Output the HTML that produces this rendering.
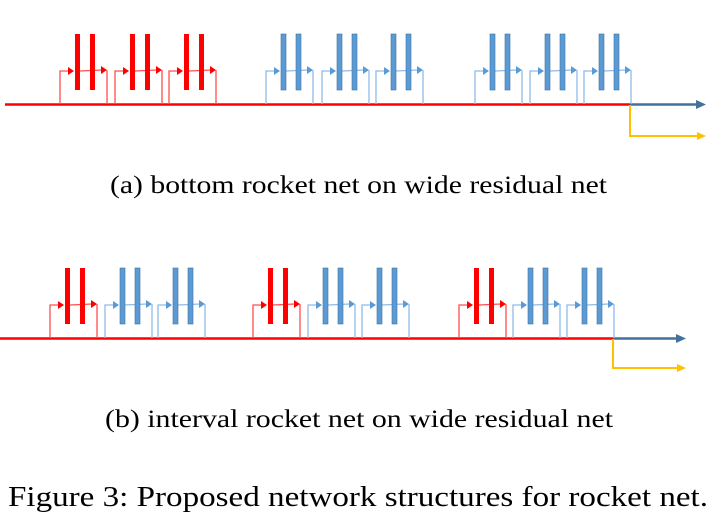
<!DOCTYPE html>
<html><head><meta charset="utf-8"><style>
html,body{margin:0;padding:0;background:#fff;}
svg{display:block;}
.t{font-family:"Liberation Serif","Times New Roman",Times,"Nimbus Roman","Nimbus Roman No9 L",serif;}
</style></head><body>
<svg width="716" height="518" viewBox="0 0 716 518" xmlns="http://www.w3.org/2000/svg">
<defs>
<g id="r">
<polyline points="0,0 0,-33 9,-33" fill="none" stroke="#ff4d4d" stroke-width="1.3"/>
<polygon points="8,-37 14,-33 8,-29" fill="#f00"/>
<line x1="20" y1="-33" x2="42" y2="-34" stroke="#ff4d4d" stroke-width="1.3"/>
<polygon points="41,-38 47,-34 41,-30" fill="#f00"/>
<line x1="47" y1="-34" x2="47" y2="0" stroke="#ff4d4d" stroke-width="1.3"/>
<rect x="15" y="-70" width="5" height="56" fill="#f00"/>
<rect x="30" y="-70" width="5" height="56" fill="#f00"/>
</g>
<g id="b">
<polyline points="0,0 0,-33 9,-33" fill="none" stroke="#8fbbe6" stroke-width="1.3"/>
<polygon points="8,-37 14,-33 8,-29" fill="#5b9bd5"/>
<line x1="20" y1="-33" x2="42" y2="-34" stroke="#8fbbe6" stroke-width="1.3"/>
<polygon points="41,-38 47,-34 41,-30" fill="#5b9bd5"/>
<line x1="47" y1="-34" x2="47" y2="0" stroke="#8fbbe6" stroke-width="1.3"/>
<rect x="15" y="-70" width="5" height="56" fill="#5b9bd5" stroke="#41719c" stroke-width="0.6"/>
<rect x="30" y="-70" width="5" height="56" fill="#5b9bd5" stroke="#41719c" stroke-width="0.6"/>
</g>
</defs>
<line x1="5" y1="104.5" x2="630" y2="104.5" stroke="#f00" stroke-width="2.5"/>
<line x1="630" y1="104.5" x2="698" y2="104.5" stroke="#41719c" stroke-width="2.5"/>
<polygon points="696,100 706,104.5 696,109" fill="#41719c"/>
<polyline points="630,105 630,136 698,136" fill="none" stroke="#ffc000" stroke-width="2"/>
<polygon points="697,132 706,136 697,140" fill="#ffc000"/>
<use href="#r" x="60" y="104"/>
<use href="#r" x="115" y="104"/>
<use href="#r" x="169" y="104"/>
<use href="#b" x="266" y="104"/>
<use href="#b" x="322" y="104"/>
<use href="#b" x="376" y="104"/>
<use href="#b" x="475" y="104"/>
<use href="#b" x="530" y="104"/>
<use href="#b" x="584" y="104"/>
<text class="t" x="110" y="193" font-size="25" fill="#000" textLength="497" lengthAdjust="spacingAndGlyphs">(a) bottom rocket net on wide residual net</text>
<line x1="0" y1="338.5" x2="613" y2="338.5" stroke="#f00" stroke-width="2.5"/>
<line x1="613" y1="338.5" x2="678" y2="338.5" stroke="#41719c" stroke-width="2.5"/>
<polygon points="676,334 686,338.5 676,343" fill="#41719c"/>
<polyline points="613,339 613,368 678,368" fill="none" stroke="#ffc000" stroke-width="2"/>
<polygon points="677,364 686,368 677,372" fill="#ffc000"/>
<use href="#r" x="50" y="338"/>
<use href="#b" x="105" y="338"/>
<use href="#b" x="158" y="338"/>
<use href="#r" x="253" y="338"/>
<use href="#b" x="308" y="338"/>
<use href="#b" x="362" y="338"/>
<use href="#r" x="459" y="338"/>
<use href="#b" x="513" y="338"/>
<use href="#b" x="567" y="338"/>
<text class="t" x="105" y="427" font-size="25" fill="#000" textLength="508" lengthAdjust="spacingAndGlyphs">(b) interval rocket net on wide residual net</text>
<text class="t" x="8" y="506" font-size="29" fill="#000" textLength="700" lengthAdjust="spacingAndGlyphs">Figure 3: Proposed network structures for rocket net.</text>
</svg>
</body></html>
